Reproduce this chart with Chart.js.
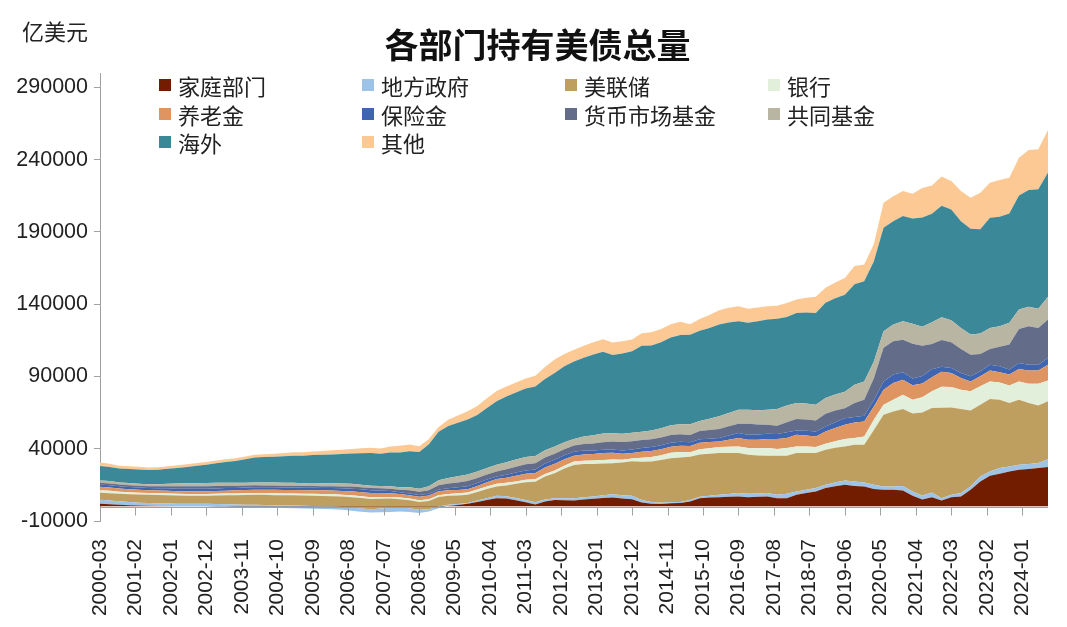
<!DOCTYPE html>
<html>
<head>
<meta charset="utf-8">
<script src="https://cdn.jsdelivr.net/npm/chart.js@4.4.1/dist/chart.umd.min.js"></script>
<style>
  body { margin: 0; background: #fff; }
  #wrap { position: relative; width: 1067px; height: 627px; }
  #unit { position: absolute; left: 22px; top: 14px; font: 22px "Noto Sans CJK SC", sans-serif; color: #222; }
  #title { position: absolute; left: 0; top: 19px; width: 1075px; text-align: center; font: bold 34px "Noto Sans CJK SC", sans-serif; color: #111; }
  .lg { position: absolute; display: flex; align-items: center; height: 28px; font: 22px "Noto Sans CJK SC", sans-serif; color: #222; white-space: nowrap; }
  .lg span { display: inline-block; width: 12px; height: 12px; margin-right: 7px; }
</style>
</head>
<body>
<div id="wrap">
  <canvas id="chart" width="1067" height="627"></canvas>
  <div id="unit">亿美元</div>
  <div id="title">各部门持有美债总量</div>
</div>
<script>
// quarterly data, first point 2000-03, one point every 3 months (亿美元)
const firstYear = 2000, firstMonth = 3, stepMonths = 3;

const household = [1900,1600,1200,900, 700,500,300,200, 100,0,0,0, -100,-200,-300,-400, -500,-600,-800,-1000, -1100,-1300,-1500,-1700, -1800,-2300,-2900,-3600, -4200,-4000,-3700,-3500, -3800,-4500,-3500,-1100, 300,1000,1900,3200, 4500,5800,5500,4300, 3000,1500,3500,4600, 4400,4200,4800,5400, 6000,6300,5600,5100, 2800,2000,1800,2200, 2400,3500,5800,6200, 6500,6700,6900,6500, 6700,6900,5800,5800, 8100,9300,10400,12800, 14000,15000,14300,13900, 12100,11600,11600,11100, 7400,4800,6500,4200, 6500,6900,11600,17300, 21300,22700,24300,25400, 25900,26600,27300];
const localGov = [2800,2600,2400,2200, 2000,1900,1900,1900, 1900,1900,1900,1900, 1800,1800,1700,1700, 1700,1700,1700,1800, 1800,1800,1800,1800, 1800,2000,2200,2300, 2400,2600,2800,2800, 2600,2200,1600,1100, 900,700,600,900, 1300,1600,1600,1600, 1600,1500,1300,1200, 1400,1600,1600,1600, 1800,2200,2300,2300, 1800,1200,900,800, 800,1000,1000,1300, 1600,2000,2400,2300, 2300,2400,2300,3000, 2300,2400,2400,2200, 2600,3000,3000,2700, 2900,2300,2300,3200, 3000,2800,3200,1600, 1600,2400,2300,3500, 3000,3900,3400,3500, 3500,3500,5500];
const fed = [4800,5000,5200,5400, 5600,5800,5800,5700, 5600,5600,5600,5600, 5900,6200,6500,6700, 6900,7000,7000,7000, 7100,7100,7100,7200, 7200,7200,7200,7200, 7100,6800,6400,5800, 5600,5500,5800,6600, 6200,6000,5700,6000, 6300,6500,7500,9800, 12300,14200,16000,17300, 20500,23000,23000,22500, 22000,21500,22500,24000, 26400,28000,29500,30500, 30700,30000,29300,29000, 28900,28300,27700,27000, 26300,25800,27000,26300, 26600,25400,24200,24300, 24000,23600,25500,26200, 38000,49600,51900,53200, 54000,57500,58500,62500, 60500,58200,52600,49700, 50100,47300,44000,45000, 42300,39800,40000];
const banks = [1800,1700,1500,1400, 1300,1200,1200,1200, 1200,1200,1200,1200, 1200,1200,1200,1200, 1200,1200,1300,1300, 1300,1300,1400,1400, 1400,1300,1300,1200, 1200,1200,1100,1100, 1100,1100,1100,1200, 1300,1500,1600,1700, 1800,1800,1800,1700, 1700,1700,1800,1800, 2000,2300,2300,2300, 2400,2600,2000,1800, 2700,3000,3300,3700, 3900,3000,3500,3900, 4200,4400,4600,4700, 5000,5400,4700,5400, 4600,4400,4200,4200, 4600,5100,4600,5700, 7000,7000,8100,9900, 9500,10500,11500,14600, 14100,13400,13200,12700, 12200,12000,12000,12700, 13300,15100,14500];
const pension = [2400,2300,2200,2100, 2000,1900,1900,1900, 1800,1800,1800,1800, 1900,2000,2100,2200, 2300,2300,2400,2400, 2400,2400,2500,2500, 2500,2600,2700,2800, 2800,2700,2600,2400, 2400,2500,2600,2800, 2500,2200,2100,2500, 2900,3300,3600,3900, 4100,4300,4500,4700, 4400,4100,4400,4600, 4800,4600,4100,3900, 4200,4200,4200,4200, 4200,4400,4600,4200, 3800,4800,5800,5700, 6000,6200,6900,6900, 8100,7700,7300,8500, 9200,9900,10800,10400, 9300,10400,11600,10400, 10000,9500,9800,10400, 9700,8100,6900,6900, 7600,7000,7600,8600, 9200,9200,10900];
const insurance = [1600,1600,1500,1500, 1500,1500,1600,1700, 1700,1800,1800,1800, 1800,1800,1700,1700, 1700,1700,1700,1700, 1700,1700,1700,1700, 1700,1800,1900,2000, 2000,1800,1500,1300, 1200,1200,1200,1200, 1500,1900,2200,2000, 1900,1800,2000,2200, 2300,2500,2700,2800, 2800,2800,2600,2400, 2300,2200,2300,2300, 2600,2800,2800,2800, 2800,2600,2300,2400, 2400,3000,3500,3500, 3600,3700,3500,4000, 3000,3300,3500,3400, 4000,4500,3800,4000, 4500,5700,5800,5100, 4700,5200,5500,3400, 3500,3400,3500,3500, 4000,4100,3500,4200, 4000,4000,4600];
const moneyMarket = [1200,1200,1200,1300, 1300,1200,1300,1500, 1700,1800,1800,1800, 1700,1600,1500,1400, 1400,1300,1300,1200, 1200,1200,1200,1200, 1200,1300,1400,1500, 1500,1600,1700,1700, 2200,2200,2500,2900, 3200,3400,3500,3400, 3400,3500,3800,4000, 4200,4200,4100,4100, 4200,4200,4500,4800, 5200,5600,5800,5800, 5500,5300,5300,5300, 5300,5000,5800,6000, 6200,6300,6400,7600, 6800,6200,5700,6900, 7900,7800,7600,8800, 8000,6900,9700,11000, 15000,23200,23000,22600, 24000,21000,17500,18500, 17800,16700,15000,12000, 10900,13500,17300,23500, 26500,25400,26600];
const mutualFunds = [1600,1600,1500,1500, 1400,1400,1500,1700, 1900,2000,2100,2200, 2200,2100,2000,2000, 2000,2000,2000,2000, 2000,2000,2100,2100, 2100,2000,1900,1700, 1600,1600,1700,1800, 2000,2200,2800,3500, 3900,4300,4600,4600, 4600,4600,4800,5000, 5100,5100,5100,5100, 4800,4600,5200,5800, 6100,5800,5800,5800, 5800,6100,6400,6700, 6900,7400,6900,7800, 8800,9300,9700,9700, 10000,10400,11600,11600, 11100,11000,10900,10900, 11200,11500,12600,12700, 11600,11500,11600,12700, 13900,13200,15000,15800, 15200,14500,13900,14100, 14500,14200,15000,13400, 13500,13200,15700];
const foreign = [9900,9800,9600,9700, 9900,9900,10000,10300, 10800,11300,12000,12700, 13500,14300,15200,16200, 17300,17600,17900,18400, 18800,19000,19300,19600, 20000,20400,21000,21800, 22700,22300,23300,24000, 25000,25300,29000,33500, 36000,37000,38000,39000, 41500,44000,45500,46500, 47400,48000,49200,50800, 52500,53600,54500,55800, 56600,54000,55500,56500, 59400,58800,59500,60800, 61700,61900,62400,62800, 63500,62500,61200,60100, 61500,62400,62400,61200, 62300,63000,63500,65900, 66500,67000,69500,69300, 69300,71600,71600,72800, 72800,75500,75100,77100, 76700,73900,73200,72100, 76300,75900,75700,79000, 80800,82700,86000];
const others = [2400,2200,2000,1900, 1800,1700,1700,1800, 1800,1900,1900,1900, 1900,1900,1900,1900, 1900,2000,2100,2200, 2300,2400,2500,2600, 2800,3000,3200,3400, 3500,3600,4200,4600, 4600,4000,3600,3400, 4300,5000,5700,6200, 6700,7000,7000,6900, 6900,7500,8400,9300, 8600,8100,8300,8500, 8600,8700,8400,8100, 8800,9200,9200,9200, 9200,7300,8100,9000, 9900,10200,10400,9800, 9500,9200,9100,9700, 9200,10200,11100,10400, 11000,11600,12700,11600, 12000,17400,17300,17300, 17200,20500,19600,20300, 19600,20800,21500,25300, 24200,25300,24800,26100, 27700,27700,29500];

const seriesNames = ['家庭部门', '地方政府', '美联储', '银行', '养老金', '保险金', '货币市场基金', '共同基金', '海外', '其他'];
const seriesValues = [household, localGov, fed, banks, pension, insurance, moneyMarket, mutualFunds, foreign, others];
const seriesColors = ['#731D00', '#9DC3E6', '#BF9F5F', '#E2EFDA', '#DF9561', '#3F65B0', '#636C89', '#B8B5A3', '#3B8899', '#FCC995'];

// x axis labels every 11 months starting at 2000-03
const xTickLabels = ['2000-03','2001-02','2002-01','2002-12','2003-11','2004-10','2005-09','2006-08','2007-07',
  '2008-06','2009-05','2010-04','2011-03','2012-02','2013-01','2013-12','2014-11','2015-10','2016-09',
  '2017-08','2018-07','2019-06','2020-05','2021-04','2022-03','2023-02','2024-01'];
const xTickStep = 11;
const yTickValues = [-10000, 40000, 90000, 140000, 190000, 240000, 290000];
const yMin = -10000, yMax = 300000;

// legend, 4 columns x 3 rows
const wrap = document.getElementById('wrap');
seriesNames.forEach(function(name, i) {
    const el = document.createElement('div');
    el.className = 'lg';
    el.style.left = (159 + (i % 4) * 203) + 'px';
    el.style.top = (71 + Math.floor(i / 4) * 28.5) + 'px';
    el.innerHTML = '<span style="background:' + seriesColors[i] + '"></span>' + name;
    wrap.appendChild(el);
});

const xTickMonths = xTickLabels.map((_, i) => i * xTickStep);
const lastMonth = (household.length - 1) * stepMonths;

const datasets = seriesValues.map(function(values, i) {
    return {
        label: seriesNames[i],
        data: values.map((v, q) => ({ x: q * stepMonths, y: v })),
        backgroundColor: seriesColors[i],
        borderColor: seriesColors[i],
        borderWidth: 0,
        pointRadius: 0,
        tension: 0,
        fill: i === 0 ? { target: 'origin', above: seriesColors[0], below: 'rgba(0,0,0,0)' } : '-1'
    };
});

// zero line with tick marks, like the horizontal axis crossing at 0
const zeroAxis = {
    id: 'zeroAxis',
    afterDatasetsDraw(chart) {
        const ctx = chart.ctx, xs = chart.scales.x, ys = chart.scales.y;
        const y0 = Math.round(ys.getPixelForValue(0)) + 0.5;
        ctx.save();
        ctx.strokeStyle = '#A0A0A0';
        ctx.lineWidth = 1;
        ctx.beginPath();
        ctx.moveTo(chart.chartArea.left, y0);
        ctx.lineTo(chart.chartArea.right, y0);
        xTickMonths.forEach(function(m) {
            const x = Math.round(xs.getPixelForValue(m)) + 0.5;
            ctx.moveTo(x, y0);
            ctx.lineTo(x, y0 + 8);
        });
        ctx.stroke();
        ctx.restore();
    }
};

Chart.defaults.font.family = '"Liberation Sans", Arial, sans-serif';
Chart.defaults.color = '#222';

new Chart(document.getElementById('chart'), {
    type: 'line',
    data: { datasets: datasets },
    options: {
        responsive: false,
        animation: false,
        layout: { padding: { top: 73, right: 19, bottom: 0, left: 0 } },
        plugins: { legend: { display: false }, tooltip: { enabled: false } },
        scales: {
            x: {
                type: 'linear',
                min: 0,
                max: lastMonth,
                grid: { display: false },
                border: { display: false },
                afterBuildTicks: function(scale) {
                    scale.ticks = xTickMonths.map(v => ({ value: v }));
                },
                afterFit: function(scale) { scale.height = 106; },
                ticks: {
                    autoSkip: false,
                    minRotation: 90,
                    maxRotation: 90,
                    padding: 10,
                    font: { size: 21 },
                    color: '#222',
                    callback: function(value) {
                        return xTickLabels[xTickMonths.indexOf(value)];
                    }
                }
            },
            y: {
                stacked: 'single',
                min: yMin,
                max: yMax,
                grid: { drawOnChartArea: false, drawTicks: true, tickLength: 6, color: '#A0A0A0' },
                border: { display: true, color: '#A0A0A0' },
                afterBuildTicks: function(scale) {
                    scale.ticks = yTickValues.map(v => ({ value: v }));
                },
                afterFit: function(scale) { scale.width = 100; },
                ticks: {
                    padding: 6,
                    font: { size: 21.5 },
                    color: '#222',
                    callback: function(value) { return String(value); }
                }
            }
        }
    },
    plugins: [zeroAxis]
});
</script>
</body>
</html>
